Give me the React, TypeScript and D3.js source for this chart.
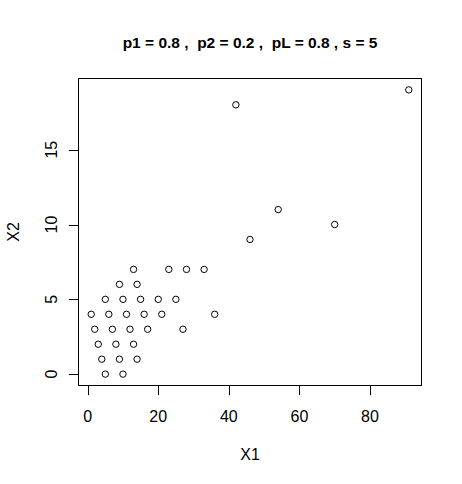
import React from 'react';
import * as d3 from 'd3';

// observed points (X1, X2)
const x1Values = [
  13, 23, 28, 33,
  9, 14,
  5, 10, 15, 20, 25,
  1, 6, 11, 16, 21, 36,
  2, 7, 12, 17, 27,
  3, 8, 13,
  4, 9, 14,
  5, 10,
  42, 46, 54, 70, 91,
];
const x2Values = [
  7, 7, 7, 7,
  6, 6,
  5, 5, 5, 5, 5,
  4, 4, 4, 4, 4, 4,
  3, 3, 3, 3, 3,
  2, 2, 2,
  1, 1, 1,
  0, 0,
  18, 9, 11, 10, 19,
];
const xTicks = [0, 20, 40, 60, 80];
const yTicks = [0, 5, 10, 15];
const mainTitle = 'p1 = 0.8 ,  p2 = 0.2 ,  pL = 0.8 , s = 5';

const W = 462;
const H = 484;
const plot = { left: 78.5, right: 421.5, top: 78.5, bottom: 385.5 };

// R-style 4% padding around the data range
const padded = (vals: number[]) => {
  const [lo, hi] = d3.extent(vals) as [number, number];
  const d = (hi - lo) * 0.04;
  return [lo - d, hi + d];
};

const App = () => {
  const x = d3.scaleLinear().domain(padded(x1Values)).range([plot.left, plot.right]);
  const y = d3.scaleLinear().domain(padded(x2Values)).range([plot.bottom, plot.top]);
  const font = '"Liberation Sans", Arial, sans-serif';
  const midX = (plot.left + plot.right) / 2;
  const midY = (plot.top + plot.bottom) / 2;

  return (
    <svg
      width={W}
      height={H}
      style={{ position: 'absolute', left: 0, top: 0, background: '#fff' }}
      fontFamily={font}
    >
      <rect x={0} y={0} width={W} height={H} fill="#fff" />
      <text
        x={midX}
        y={47.5}
        textAnchor="middle"
        fontSize={15.5}
        fontWeight="bold"
        style={{ whiteSpace: 'pre' }}
      >
        {mainTitle}
      </text>

      {/* points */}
      {x1Values.map((v, i) => (
        <circle
          key={i}
          cx={x(v)}
          cy={y(x2Values[i])}
          r={3.2}
          fill="none"
          stroke="#000"
          strokeWidth={1}
        />
      ))}

      {/* box */}
      <rect
        x={plot.left}
        y={plot.top}
        width={plot.right - plot.left}
        height={plot.bottom - plot.top}
        fill="none"
        stroke="#000"
        strokeWidth={1}
      />

      {/* x axis */}
      <line x1={x(xTicks[0])} x2={x(xTicks[xTicks.length - 1])} y1={plot.bottom} y2={plot.bottom} stroke="#000" />
      {xTicks.map((t) => (
        <g key={t}>
          <line x1={Math.round(x(t)) + 0.5} x2={Math.round(x(t)) + 0.5} y1={plot.bottom} y2={plot.bottom + 9.6} stroke="#000" />
          <text x={x(t)} y={421.5} textAnchor="middle" fontSize={16}>{t}</text>
        </g>
      ))}
      <text x={midX} y={460} textAnchor="middle" fontSize={16}>X1</text>

      {/* y axis */}
      {yTicks.map((t) => (
        <g key={t}>
          <line x1={plot.left} x2={plot.left - 9.6} y1={Math.round(y(t)) + 0.5} y2={Math.round(y(t)) + 0.5} stroke="#000" />
          <text
            transform={`translate(56.5, ${y(t)}) rotate(-90)`}
            textAnchor="middle"
            fontSize={16}
          >
            {t}
          </text>
        </g>
      ))}
      <text transform={`translate(19, ${midY}) rotate(-90)`} textAnchor="middle" fontSize={16}>X2</text>
    </svg>
  );
};

export default App;
